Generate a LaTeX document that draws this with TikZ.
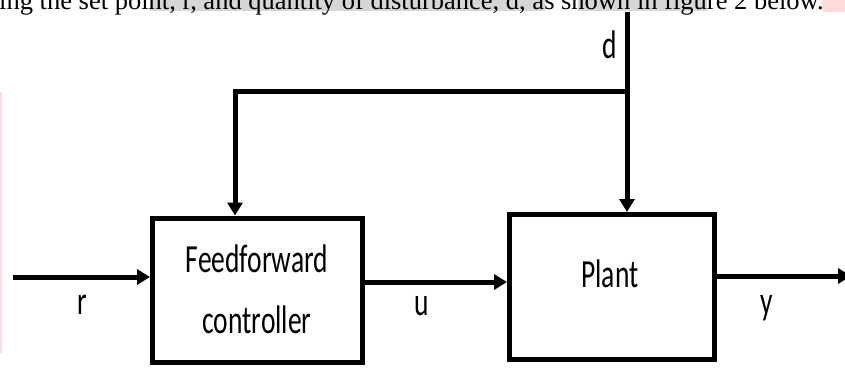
\documentclass[tikz,border=0pt]{standalone}
\usepackage{fontspec}
\setmainfont{Carlito}
\newfontfamily\timesf{Liberation Serif}
\usetikzlibrary{arrows.meta}
\tikzset{
  box/.style={draw, line width=5pt, inner sep=0pt},
  lbl/.style={inner sep=0pt, anchor=base, font=\fontsize{27.5}{33}\selectfont},
  conn/.style={line width=5pt, -{Triangle[length=13pt,width=15pt]}},
  wire/.style={line width=5pt},
  hl/.style={fill=gray!32},
  pinkmark/.style={fill=pink!55}
}
\newcommand{\tall}[1]{\scalebox{1}[1.45]{#1}}
\begin{document}
\begin{tikzpicture}[x=1pt,y=-1pt]
\clip (0,0) rectangle (845,367);
\fill[white] (0,0) rectangle (845,367);
% stray page marks
\fill[hl] (150,0) rectangle (545,11);
\fill[hl] (578,0) rectangle (707,11);
\fill[pinkmark] (822,0) rectangle (845,12);
\fill[pinkmark] (0,92) rectangle (1.5,353);
\node[inner sep=0pt, anchor=base west, font=\timesf\fontsize{26.5}{30}\selectfont] (toptext) at (-1,9.5)
  {ing the set point, r, and quantity of disturbance, d, as shown in figure 2 below.};
% blocks
\node[box, minimum width=210pt, minimum height=144pt] (ff) at (257.5,290) {};
\node[box, minimum width=205pt, minimum height=145pt] (plant) at (612,287) {};
\node[lbl] (fft1) at (257,272) {\tall{Feedforward}};
\node[lbl] (fft2) at (257,333) {\tall{controller}};
\node[lbl] (plantt) at (610,287) {\tall{Plant}};
% signal labels
\node[lbl] (rl) at (82,314) {\tall{r}};
\node[lbl] (ul) at (422,315) {\tall{u}};
\node[lbl] (yl) at (767,314) {\tall{y}};
\node[lbl] (dl) at (610,58) {\tall{d}};
% coordinates
\coordinate (rin) at (13,277);
\coordinate (uy) at (0,282);
\coordinate (yout) at (851,276);
\coordinate (dtop) at (627,12);
\coordinate (dj) at (627,91);
\coordinate (fftop) at (235,91);
% connectors
\draw[conn] (rin) -- (rin -| ff.west);
\draw[conn] (ff.east |- uy) -- (plant.west |- uy);
\draw[conn] (plant.east |- yout) -- (yout);
\draw[conn] (dtop) -- (dtop |- plant.north);
\draw[conn] (dj) -- (fftop) -- (fftop |- ff.north);
\end{tikzpicture}
\end{document}
